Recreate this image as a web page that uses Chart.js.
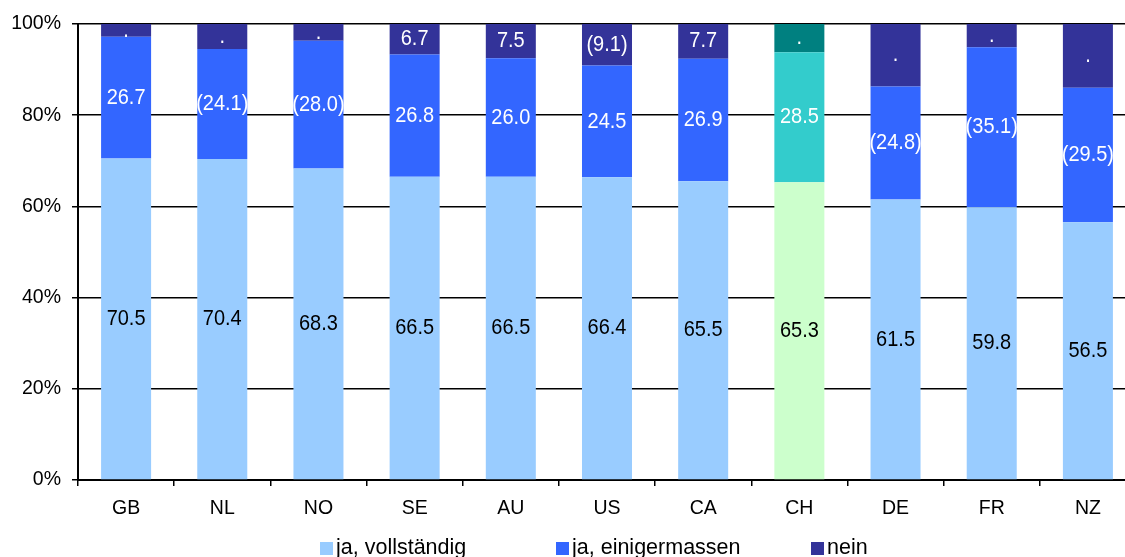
<!DOCTYPE html>
<html>
<head>
<meta charset="utf-8">
<script src="https://cdn.jsdelivr.net/npm/chart.js@4/dist/chart.umd.min.js"></script>
<style>
    body { margin: 0; overflow: hidden; background: #fff; font-family: "Liberation Sans", Arial, sans-serif; }
    #wrap { position: relative; width: 1140px; height: 557px; }
    .leg { position: absolute; top: 535px; font-size: 21.5px; line-height: 24px; color: #000; white-space: nowrap; }
    .leg i { display: inline-block; width: 13px; height: 13px; margin-right: 3px; vertical-align: -1px; }
</style>
</head>
<body>
<div id="wrap">
    <canvas id="balken"></canvas>
    <div class="leg" style="left:320px"><i style="background:#99CCFF"></i>ja, vollständig</div>
    <div class="leg" style="left:556px"><i style="background:#3366FF"></i>ja, einigermassen</div>
    <div class="leg" style="left:811px"><i style="background:#333399"></i>nein</div>
</div>
<script>
var laender = ['GB', 'NL', 'NO', 'SE', 'AU', 'US', 'CA', 'CH', 'DE', 'FR', 'NZ'];
var vollstaendig = [70.5, 70.4, 68.3, 66.5, 66.5, 66.4, 65.5, 65.3, 61.5, 59.8, 56.5];
var einigermassen = [26.7, 24.1, 28.0, 26.8, 26.0, 24.5, 26.9, 28.5, 24.8, 35.1, 29.5];
var nein = [2.8, 5.5, 3.7, 6.7, 7.5, 9.1, 7.7, 6.2, 13.7, 5.1, 14.0];

// Beschriftungen wie im Original (Klammern = unsichere Werte, Punkt = keine Angabe)
var textVoll = ['70.5', '70.4', '68.3', '66.5', '66.5', '66.4', '65.5', '65.3', '61.5', '59.8', '56.5'];
var textEinig = ['26.7', '(24.1)', '(28.0)', '26.8', '26.0', '24.5', '26.9', '28.5', '(24.8)', '(35.1)', '(29.5)'];
var textNein = ['.', '.', '.', '6.7', '7.5', '(9.1)', '7.7', '.', '.', '.', '.'];
var yTicks = [0, 20, 40, 60, 80, 100];

// CH wird hervorgehoben
function farben(normal, ch) {
    return laender.map(function (l) { return l === 'CH' ? ch : normal; });
}

var texte = [textVoll, textEinig, textNein];
var textFarbe = ['#000000', '#ffffff', '#ffffff'];

var balkenLabels = {
    id: 'balkenLabels',
    afterDatasetsDraw: function (chart) {
        var ctx = chart.ctx;
        chart.data.datasets.forEach(function (ds, d) {
            var meta = chart.getDatasetMeta(d);
            meta.data.forEach(function (bar, i) {
                ctx.save();
                ctx.font = '20px "Liberation Sans", Arial, sans-serif';
                ctx.textAlign = 'center';
                ctx.textBaseline = 'middle';
                ctx.fillStyle = textFarbe[d];
                ctx.translate(bar.x, (bar.y + bar.base) / 2);
                ctx.scale(1, 1.12);
                ctx.fillText(texte[d][i], 0, 0);
                ctx.restore();
            });
        });
    }
};

var ctx = document.getElementById('balken').getContext('2d');
var chart = new Chart(ctx, {
    type: 'bar',
    data: {
        labels: laender,
        datasets: [{
            label: 'ja, vollständig',
            data: vollstaendig,
            backgroundColor: farben('#99CCFF', '#CCFFCC')
        }, {
            label: 'ja, einigermassen',
            data: einigermassen,
            backgroundColor: farben('#3366FF', '#33CCCC')
        }, {
            label: 'nein',
            data: nein,
            backgroundColor: farben('#333399', '#008080')
        }]
    },
    options: {
        responsive: true,
        maintainAspectRatio: false,
        animation: false,
        barPercentage: 0.52,
        categoryPercentage: 1,
        layout: { padding: { top: 24, right: 4, left: 0, bottom: 0 } },
        plugins: {
            legend: { display: false },
            tooltip: { enabled: false }
        },
        scales: {
            x: {
                stacked: true,
                afterFit: function (s) { s.height = 77; },
                grid: { offset: true, drawOnChartArea: false, color: '#000', tickLength: 6, lineWidth: 1.5 },
                border: { color: '#000', width: 2 },
                ticks: { color: '#000', padding: 11, font: { size: 19.5, family: '"Liberation Sans", Arial, sans-serif' } }
            },
            y: {
                stacked: true,
                min: 0,
                max: 100,
                afterFit: function (s) { s.width = 78; },
                afterBuildTicks: function (s) { s.ticks = yTicks.map(function (v) { return { value: v }; }); },
                grid: { color: '#000', lineWidth: 1.5, tickLength: 6 },
                border: { color: '#000', width: 2 },
                ticks: {
                    color: '#000',
                    padding: 11,
                    font: { size: 19.5, family: '"Liberation Sans", Arial, sans-serif' },
                    callback: function (v) { return v + '%'; }
                }
            }
        }
    },
    plugins: [balkenLabels]
});
</script>
</body>
</html>
